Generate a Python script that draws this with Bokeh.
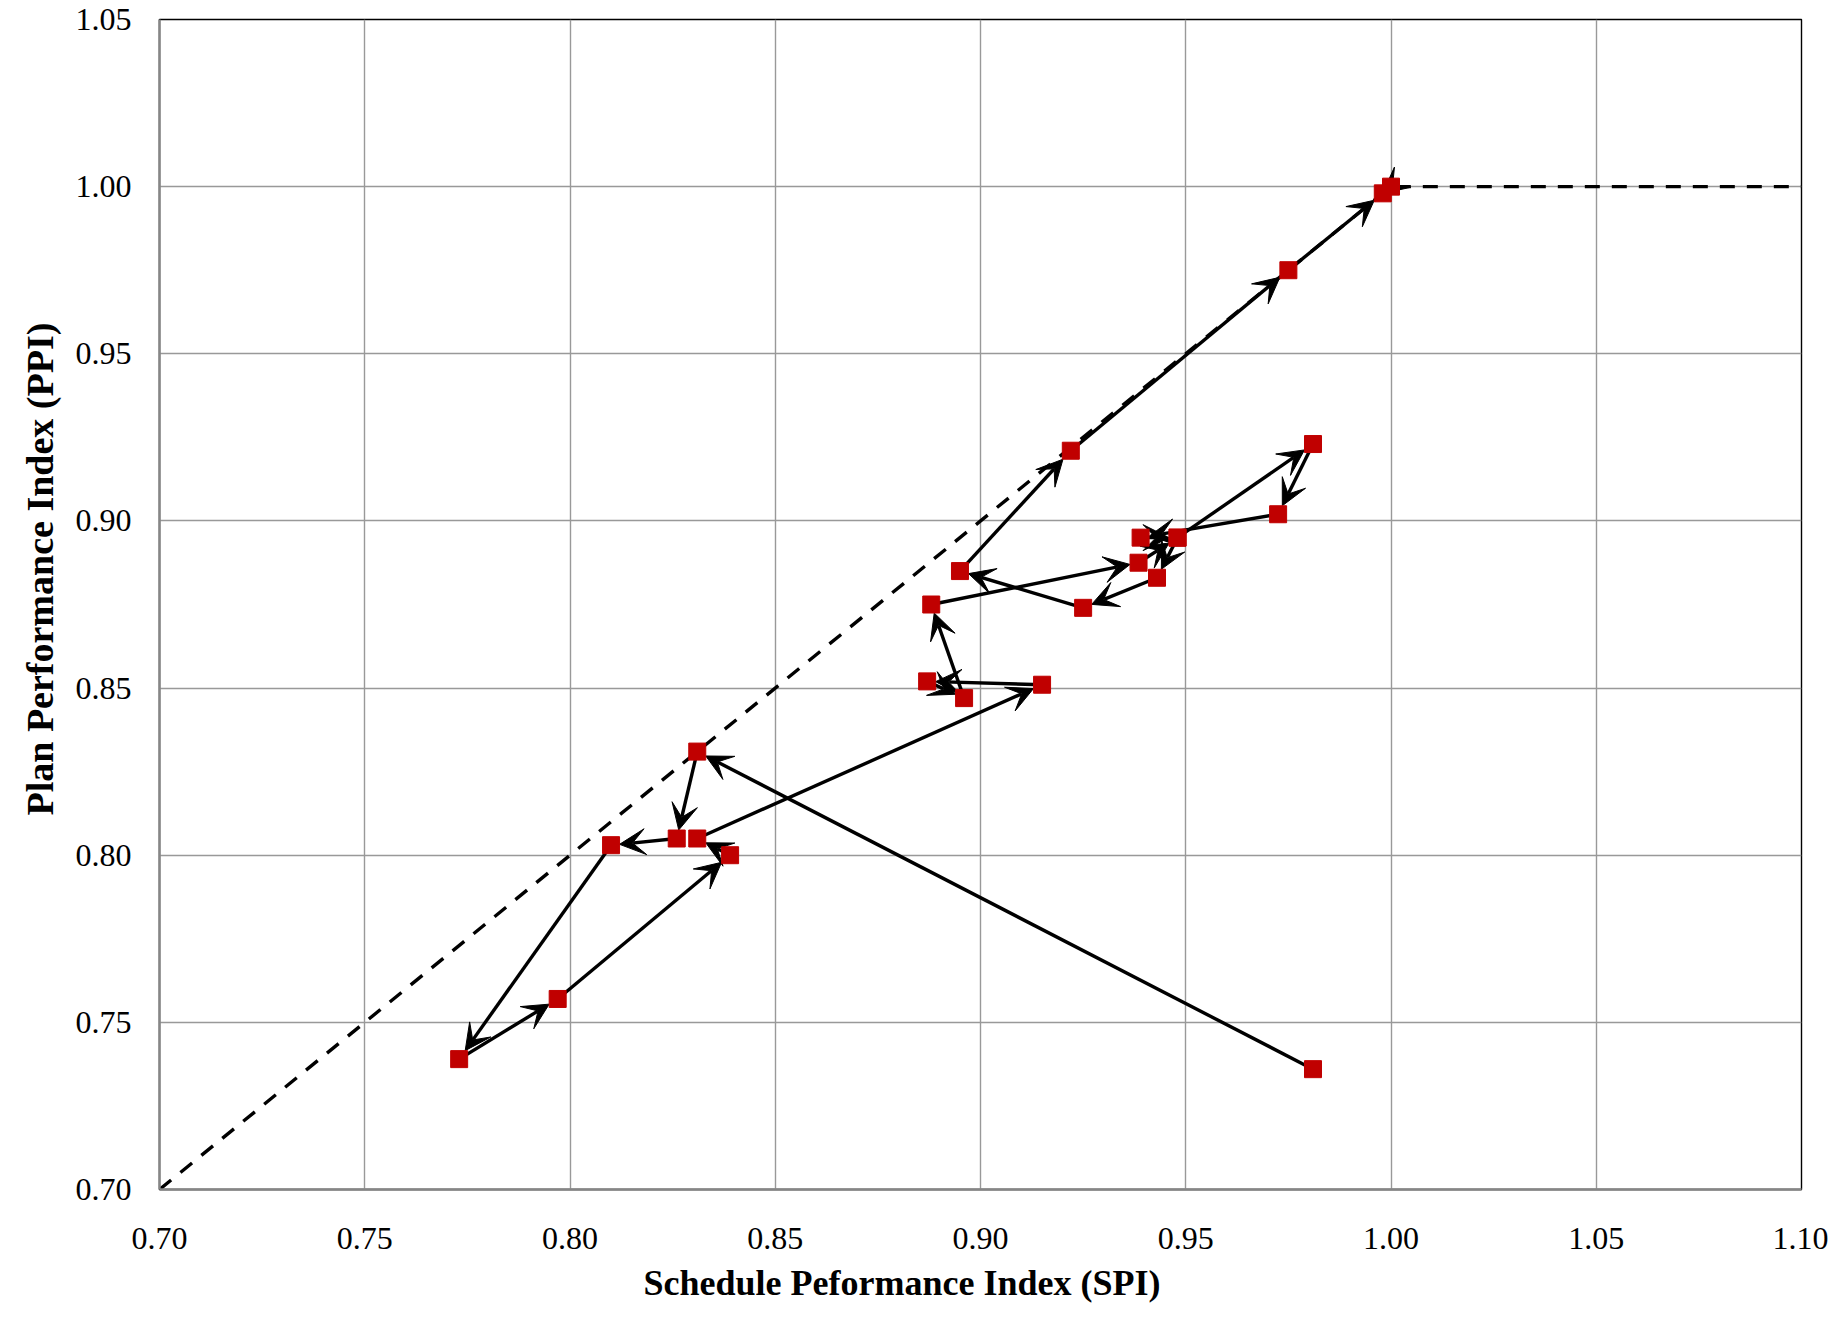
import math
from bokeh.plotting import figure
from bokeh.models import (Range1d, PrintfTickFormatter, Arrow, VeeHead,
                          ColumnDataSource, Title)
from bokeh.embed import file_html
from bokeh.resources import INLINE

# ---- data ----
spi = [0.981, 0.831, 0.826, 0.810, 0.773, 0.797, 0.839, 0.831, 0.915, 0.887,
       0.896, 0.888, 0.9385, 0.948, 0.981, 0.9725, 0.939, 0.948, 0.943, 0.925,
       0.895, 0.922, 0.975, 0.998, 1.000]
ppi = [0.736, 0.831, 0.805, 0.803, 0.739, 0.757, 0.800, 0.805, 0.851, 0.852,
       0.847, 0.875, 0.8875, 0.895, 0.923, 0.902, 0.895, 0.895, 0.883, 0.874,
       0.885, 0.921, 0.975, 0.998, 1.000]
ref_spi = [0.70, 1.00, 1.10]
ref_ppi = [0.70, 1.00, 1.00]
x_ticks = [0.70, 0.75, 0.80, 0.85, 0.90, 0.95, 1.00, 1.05, 1.10]
y_ticks = [0.70, 0.75, 0.80, 0.85, 0.90, 0.95, 1.00, 1.05]
x_title = "Schedule Peformance Index (SPI)"
y_title = "Plan Performance Index (PPI)"

W, H = 1828, 1312
ML, MR, MT, MB = 159, 27, 19, 123
X0, X1 = 0.70, 1.10
Y0, Y1 = 0.70, 1.05

p = figure(width=W, height=H, output_backend="svg", toolbar_location=None,
           x_range=Range1d(X0, X1), y_range=Range1d(Y0, Y1),
           min_border_left=ML, min_border_right=MR,
           min_border_top=MT, min_border_bottom=MB)
p.background_fill_color = "white"
p.border_fill_color = "white"
p.outline_line_color = "black"
p.outline_line_width = 1.4

for ax, ticks in ((p.xaxis, x_ticks), (p.yaxis, y_ticks)):
    ax.ticker = ticks
    ax.formatter = PrintfTickFormatter(format="%.2f")
    ax.major_tick_line_color = None
    ax.minor_tick_line_color = None
    ax.major_tick_out = 0
    ax.major_tick_in = 0
    ax.axis_line_color = "#868686"
    ax.axis_line_width = 2.4
    ax.major_label_text_font = "Liberation Serif"
    ax.major_label_text_font_size = "32px"
    ax.major_label_text_color = "black"
p.xaxis.major_label_standoff = 38
p.yaxis.major_label_standoff = 28

p.xgrid.ticker = x_ticks
p.ygrid.ticker = y_ticks
for g in (p.xgrid, p.ygrid):
    g.grid_line_color = "#999999"
    g.grid_line_width = 1.4

# reference (dashed) line
p.line(ref_spi, ref_ppi, line_color="black", line_width=3.4, line_dash="15 12")

# arrows between successive points, ending at the marker edge
fw = W - ML - MR
fh = H - MT - MB
kx = fw / (X1 - X0)
ky = fh / (Y1 - Y0)
half = 8.5
xs0, ys0, xs1, ys1 = [], [], [], []
for i in range(len(spi) - 1):
    xa, ya, xb, yb = spi[i], ppi[i], spi[i + 1], ppi[i + 1]
    dx = (xb - xa) * kx
    dy = (yb - ya) * ky
    L = math.hypot(dx, dy)
    ux, uy = dx / L, dy / L
    edge = half / max(abs(ux), abs(uy))
    xs0.append(xa)
    ys0.append(ya)
    xs1.append(xb - ux * edge / kx)
    ys1.append(yb - uy * edge / ky)
asrc = ColumnDataSource(dict(x0=xs0, y0=ys0, x1=xs1, y1=ys1))
p.add_layout(Arrow(end=VeeHead(size=26, fill_color="black", line_color="black"),
                   x_start="x0", y_start="y0", x_end="x1", y_end="y1",
                   source=asrc, line_color="black", line_width=3.4))

pts = p.scatter(spi, ppi, marker="square", size=17,
                fill_color="#C00000", line_color="#C00000")
pts.level = "overlay"

# axis titles
p.add_layout(Title(text=x_title, align="left", offset=484, standoff=18,
                   vertical_align="bottom", text_font="Liberation Serif",
                   text_font_style="bold", text_font_size="36px",
                   text_color="black"), "below")
p.add_layout(Title(text=y_title, align="left", offset=374, standoff=20,
                   vertical_align="top", text_font="Liberation Serif",
                   text_font_style="bold", text_font_size="38px",
                   text_color="black"), "left")

open("out.html", "w").write(file_html(p, INLINE))
